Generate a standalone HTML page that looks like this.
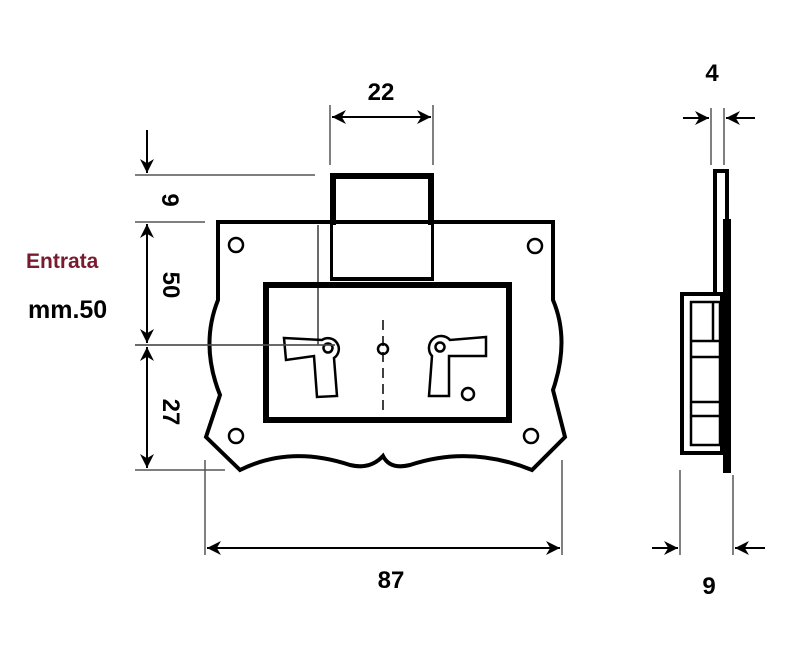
<!DOCTYPE html>
<html><head><style>
html,body{margin:0;padding:0;background:#fff;}
svg{display:block;}
text{font-family:"Liberation Sans",sans-serif;font-weight:bold;}
</style></head><body>
<svg width="800" height="665" viewBox="0 0 800 665" xmlns="http://www.w3.org/2000/svg">
<defs>
<marker id="a" viewBox="0 0 10 10" refX="10" refY="5" markerWidth="14" markerHeight="14" markerUnits="userSpaceOnUse" orient="auto"><path d="M0,0 L10,5 L0,10 L3,5 z" fill="#000"/></marker>
</defs>
<rect width="800" height="665" fill="#fff"/>
<g stroke="#555" stroke-width="1.5" fill="none">
<line x1="135" y1="175" x2="315" y2="175"/>
<line x1="135" y1="222" x2="205" y2="222"/>
<line x1="135" y1="345" x2="335" y2="345"/>
<line x1="135" y1="470" x2="225" y2="470"/>
<line x1="318" y1="225" x2="318" y2="345"/>
<line x1="330" y1="105" x2="330" y2="165"/>
<line x1="433" y1="105" x2="433" y2="165"/>
<line x1="205" y1="460" x2="205" y2="555"/>
<line x1="562" y1="460" x2="562" y2="555"/>
<line x1="711" y1="108" x2="711" y2="165"/>
<line x1="724" y1="108" x2="724" y2="165"/>
<line x1="680" y1="470" x2="680" y2="555"/>
<line x1="733" y1="475" x2="733" y2="555"/>
</g>
<g stroke="#000" stroke-width="2" fill="none">
<line x1="147" y1="130" x2="147" y2="173" marker-end="url(#a)"/>
<line x1="147" y1="283" x2="147" y2="224" marker-end="url(#a)"/>
<line x1="147" y1="283" x2="147" y2="343" marker-end="url(#a)"/>
<line x1="147" y1="407" x2="147" y2="347" marker-end="url(#a)"/>
<line x1="147" y1="407" x2="147" y2="468" marker-end="url(#a)"/>
<line x1="381" y1="117" x2="332" y2="117" marker-end="url(#a)"/>
<line x1="381" y1="117" x2="431" y2="117" marker-end="url(#a)"/>
<line x1="383" y1="548" x2="207" y2="548" marker-end="url(#a)"/>
<line x1="383" y1="548" x2="560" y2="548" marker-end="url(#a)"/>
<line x1="683" y1="118" x2="709" y2="118" marker-end="url(#a)"/>
<line x1="755" y1="118" x2="726" y2="118" marker-end="url(#a)"/>
<line x1="652" y1="548" x2="678" y2="548" marker-end="url(#a)"/>
<line x1="765" y1="548" x2="735" y2="548" marker-end="url(#a)"/>
</g>
<path d="M218,222 L553,222 L553,300 Q570,340 553,390 L565,437 L532,470 Q470,445 410,465 Q390,470 383,456 Q370,470 350,465 Q290,445 240,470 L206,437 L220,395 Q200,345 218,300 Z" fill="none" stroke="#000" stroke-width="4"/>
<rect x="333" y="176" width="98" height="102" fill="#fff" stroke="#000" stroke-width="6"/>
<line x1="218" y1="222" x2="553" y2="222" stroke="#000" stroke-width="4"/>
<rect x="333" y="225" width="98" height="52" fill="#fff"/>
<line x1="318" y1="225" x2="318" y2="345" stroke="#555" stroke-width="1.5"/>
<rect x="266" y="285" width="243" height="135" fill="none" stroke="#000" stroke-width="6"/>
<g fill="none" stroke="#000" stroke-width="2.5">
<circle cx="236" cy="245" r="7"/><circle cx="535" cy="246" r="7"/>
<circle cx="236" cy="436" r="7"/><circle cx="531" cy="436" r="7"/>
<circle cx="383" cy="349" r="5"/>
<circle cx="468" cy="394" r="6"/>
<path d="M284,338 L322,340 A10,10 0 1 1 334,358 L337,396 L317,397 L314,356 L286,360 Z"/>
<circle cx="328" cy="348" r="4.5"/>
<path d="M486,337 L450,340 A10,10 0 1 0 432,356 L429,396 L449,396 L449,356 L486,356 Z"/>
<circle cx="440" cy="347" r="4.5"/>
</g>
<line x1="383" y1="320" x2="383" y2="412" stroke="#000" stroke-width="1.5" stroke-dasharray="10,6"/>
<line x1="135" y1="345" x2="335" y2="345" stroke="#555" stroke-width="1.5"/>
<rect x="715" y="171" width="12" height="126" fill="#fff" stroke="#000" stroke-width="4"/>
<rect x="723" y="219" width="8" height="254" fill="#000"/>
<rect x="682" y="294" width="40" height="159" fill="#fff" stroke="#000" stroke-width="4"/>
<rect x="691" y="302" width="29" height="143" fill="none" stroke="#000" stroke-width="2.5"/>
<g stroke="#000" stroke-width="2.5">
<line x1="691" y1="341" x2="720" y2="341"/><line x1="691" y1="357" x2="720" y2="357"/>
<line x1="691" y1="402" x2="720" y2="402"/><line x1="691" y1="416" x2="720" y2="416"/>
<line x1="713" y1="302" x2="713" y2="341"/>
</g>
<text x="381" y="100" font-size="24" text-anchor="middle">22</text>
<text x="712" y="81" font-size="24" text-anchor="middle">4</text>
<text x="391" y="588" font-size="24" text-anchor="middle">87</text>
<text x="709" y="594" font-size="24" text-anchor="middle">9</text>
<text transform="translate(162,200) rotate(90)" font-size="24" text-anchor="middle">9</text>
<text transform="translate(163,285) rotate(90)" font-size="24" text-anchor="middle">50</text>
<text transform="translate(163,412) rotate(90)" font-size="24" text-anchor="middle">27</text>
<text x="26" y="268" font-size="21" fill="#7a1a2e">Entrata</text>
<text x="28" y="318" font-size="25">mm.50</text>
</svg>
</body></html>
